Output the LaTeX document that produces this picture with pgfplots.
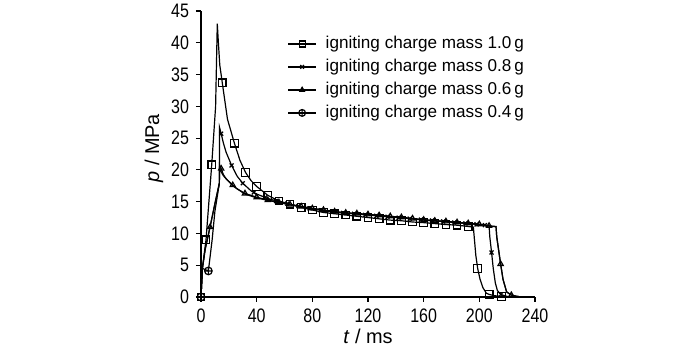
\documentclass[border=0pt]{standalone}
\usepackage{fontspec}
\setmainfont{Liberation Sans}
\newfontfamily\narrowfont[FakeStretch=0.82]{Liberation Sans}
\usepackage{pgfplots}
\pgfplotsset{compat=1.18}
\begin{document}
\begin{tikzpicture}
\useasboundingbox (-100.5bp,-25.5bp) rectangle (249.5bp,148.5bp);
\begin{axis}[
  at={(0,0)}, anchor=origin,
  scale only axis, width=167bp, height=143bp,
  xmin=0, xmax=240, ymin=0, ymax=45,
  axis x line*=bottom, axis y line*=left,
  axis line style={-, line width=0.6bp},
  xtick={0,40,...,240}, ytick={0,5,...,45},
  tick align=outside, major tick length=2.5bp,
  tick style={line width=0.6bp, black},
  /pgf/number format/assume math mode=true,
  tick label style={font=\narrowfont\fontsize{9.8}{11}\selectfont},
  xticklabel style={yshift=0bp},
  label style={font=\narrowfont\fontsize{10.2}{12}\selectfont},
  xlabel={\textit{t} / ms},
  ylabel={\textit{p} / MPa},
  every axis x label/.style={at={(axis description cs:0.5,0)}, yshift=-19.5bp, anchor=center},
  every axis y label/.style={at={(axis description cs:0,0.52)}, xshift=-23.5bp, rotate=90, anchor=center},
  clip=false,
  legend cell align=left,
  legend style={at={(axis description cs:0.24,0.93)}, anchor=north west, draw=none, fill=none,
    font=\fontsize{8.6}{10}\selectfont, row sep=3bp,
    nodes={inner sep=0pt, text height=6.5bp, text depth=2bp},
    /tikz/every odd column/.append style={column sep=4.5bp}},
  legend image code/.code={\draw[mark repeat=2,mark phase=2] plot coordinates {(0bp,0bp)(7bp,0bp)(14bp,0bp)};},
  every axis plot/.append style={line width=0.6bp, black},
]
% legend images
\addlegendimage{black, mark=square, mark size=1.5bp, mark options={fill=white}}
\addlegendentry{igniting charge mass 1.0\,g}
\addlegendimage{black, mark=x, mark size=1.3bp}
\addlegendentry{igniting charge mass 0.8\,g}
\addlegendimage{black, mark=triangle, mark size=1.3bp}
\addlegendentry{igniting charge mass 0.6\,g}
\addlegendimage{black, mark=oplus, mark size=1.7bp, mark options={fill=white}}
\addlegendentry{igniting charge mass 0.4\,g}

% 0.4 g
\addplot[forget plot, no marks] coordinates {
(0,0)(1,4.5)(5.3,4.1)(8,9)(10,13.5)(13.2,17.9)(13.3,20.2)(16,19.1)(22.8,17.5)(31.6,16.2)(40,15.6)(48,15.2)(56,14.85)(64,14.5)(72,14.2)(80,13.9)(88,13.65)(96,13.4)(104,13.2)(112,13.1)(120,12.95)(128,12.8)(136,12.65)(144,12.5)(152,12.3)(160,12.1)(168,11.95)(176,11.85)(184,11.7)(192,11.55)(200,11.4)(207,11.15)(212,11.05)(212.5,9.5)(213.8,7.5)(215.3,5.2)(217,2.8)(219.6,0.8)(223,0.3)(226,0.15)(230,0)};
\addplot[forget plot, only marks, mark=oplus, mark size=1.9bp, mark options={fill=white}] coordinates {(0,0)(5.3,4.1)};

% 0.6 g
\addplot[forget plot, no marks] coordinates {
(0,0)(1,4.5)(3,7.5)(6.5,11)(10,14.7)(13.2,17.9)(13.3,20.8)(14.5,20.2)(16,19.3)(18,18.6)(22.8,17.6)(26,17.0)(31.6,16.3)(40,15.7)(48,15.25)(56,14.9)(64,14.55)(72,14.25)(80,13.95)(88,13.7)(96,13.45)(104,13.25)(112,13.15)(120,13.0)(128,12.85)(136,12.7)(144,12.55)(152,12.35)(160,12.15)(168,12.0)(176,11.9)(184,11.75)(192,11.6)(200,11.45)(207,11.2)(212,11.1)(212.5,9.5)(213.8,7.5)(215.3,5.2)(217,2.8)(219.6,0.8)(223,0.3)(226,0.15)(230,0)};
\addplot[forget plot, only marks, mark=triangle, mark size=1.5bp] coordinates {
(6.5,11)(14.5,20.2)(22.8,17.6)(31.6,16.3)(40,15.7)(48,15.25)(56,14.9)(64,14.55)(72,14.25)(80,13.95)(88,13.7)(96,13.45)(104,13.25)(112,13.15)(120,13.0)(128,12.85)(136,12.7)(144,12.55)(152,12.35)(160,12.15)(168,12.0)(176,11.9)(184,11.75)(192,11.6)(200,11.45)(207,11.2)(215.3,5.2)(223,0.3)};

% 0.8 g
\addplot[forget plot, no marks] coordinates {
(0,0)(1,4.5)(3,7.5)(6.5,11)(10,14.7)(13.2,17.9)(13.3,26.7)(14.5,25.7)(16,24.3)(18,22.8)(22,20.7)(26,19.0)(30,17.9)(36,16.7)(40,16.2)(48,15.5)(56,15.0)(64,14.6)(72,14.2)(80,13.9)(88,13.6)(96,13.35)(104,13.2)(112,13.05)(120,12.9)(128,12.75)(136,12.6)(144,12.45)(152,12.3)(160,12.15)(168,12.0)(176,11.85)(184,11.7)(192,11.55)(200,11.4)(207,11.25)(207.5,9.5)(208.8,7.0)(210,4.5)(211.5,2.2)(213,1.0)(215.5,0.4)(219,0.15)(222,0)};
\addplot[forget plot, only marks, mark=x, mark size=1.4bp] coordinates {
(14.5,25.7)(22,20.7)(30,17.9)(38,16.45)(46,15.65)(54,15.1)(62,14.7)(70,14.3)(78,13.95)(86,13.65)(94,13.4)(102,13.22)(110,13.08)(118,12.93)(126,12.78)(134,12.63)(142,12.48)(150,12.33)(158,12.18)(166,12.03)(174,11.88)(182,11.73)(190,11.58)(198,11.43)(204,11.3)(208.8,7.0)(215.5,0.4)};

% 1.0 g
\addplot[forget plot, no marks] coordinates {
(0,0)(1,4.5)(3.6,9.0)(7.7,20.8)(10.5,30)(11.7,43.0)(12.5,40)(13.5,36.5)(15.3,33.7)(19,28)(24,24.2)(28,21.5)(32,19.6)(36,18.3)(40,17.4)(48,16.0)(56,15.1)(64,14.6)(72,14.1)(80,13.7)(88,13.3)(96,13.1)(104,12.9)(112,12.7)(120,12.5)(128,12.3)(136,12.1)(144,12.0)(152,11.8)(160,11.7)(168,11.55)(176,11.4)(184,11.3)(192,11.1)(195.7,11.0)(196.5,9.0)(197.5,6.5)(198.8,4.5)(200.5,2.8)(202.5,1.5)(205,0.6)(207.1,0.4)(211,0.2)(216,0.1)(220,0)};
\addplot[forget plot, only marks, mark=square, mark size=1.9bp, mark options={fill=white}] coordinates {
(0,0)(3.6,9.0)(7.7,20.8)(15.3,33.7)(24,24.2)(32,19.6)(40,17.4)(48,16.0)(56,15.1)(64,14.6)(72,14.1)(80,13.7)(88,13.3)(96,13.1)(104,12.9)(112,12.7)(120,12.5)(128,12.3)(136,12.1)(144,12.0)(152,11.8)(160,11.7)(168,11.55)(176,11.4)(184,11.3)(192,11.1)(198.8,4.5)(207.1,0.4)(216,0.1)};
\end{axis}
\end{tikzpicture}
\end{document}
